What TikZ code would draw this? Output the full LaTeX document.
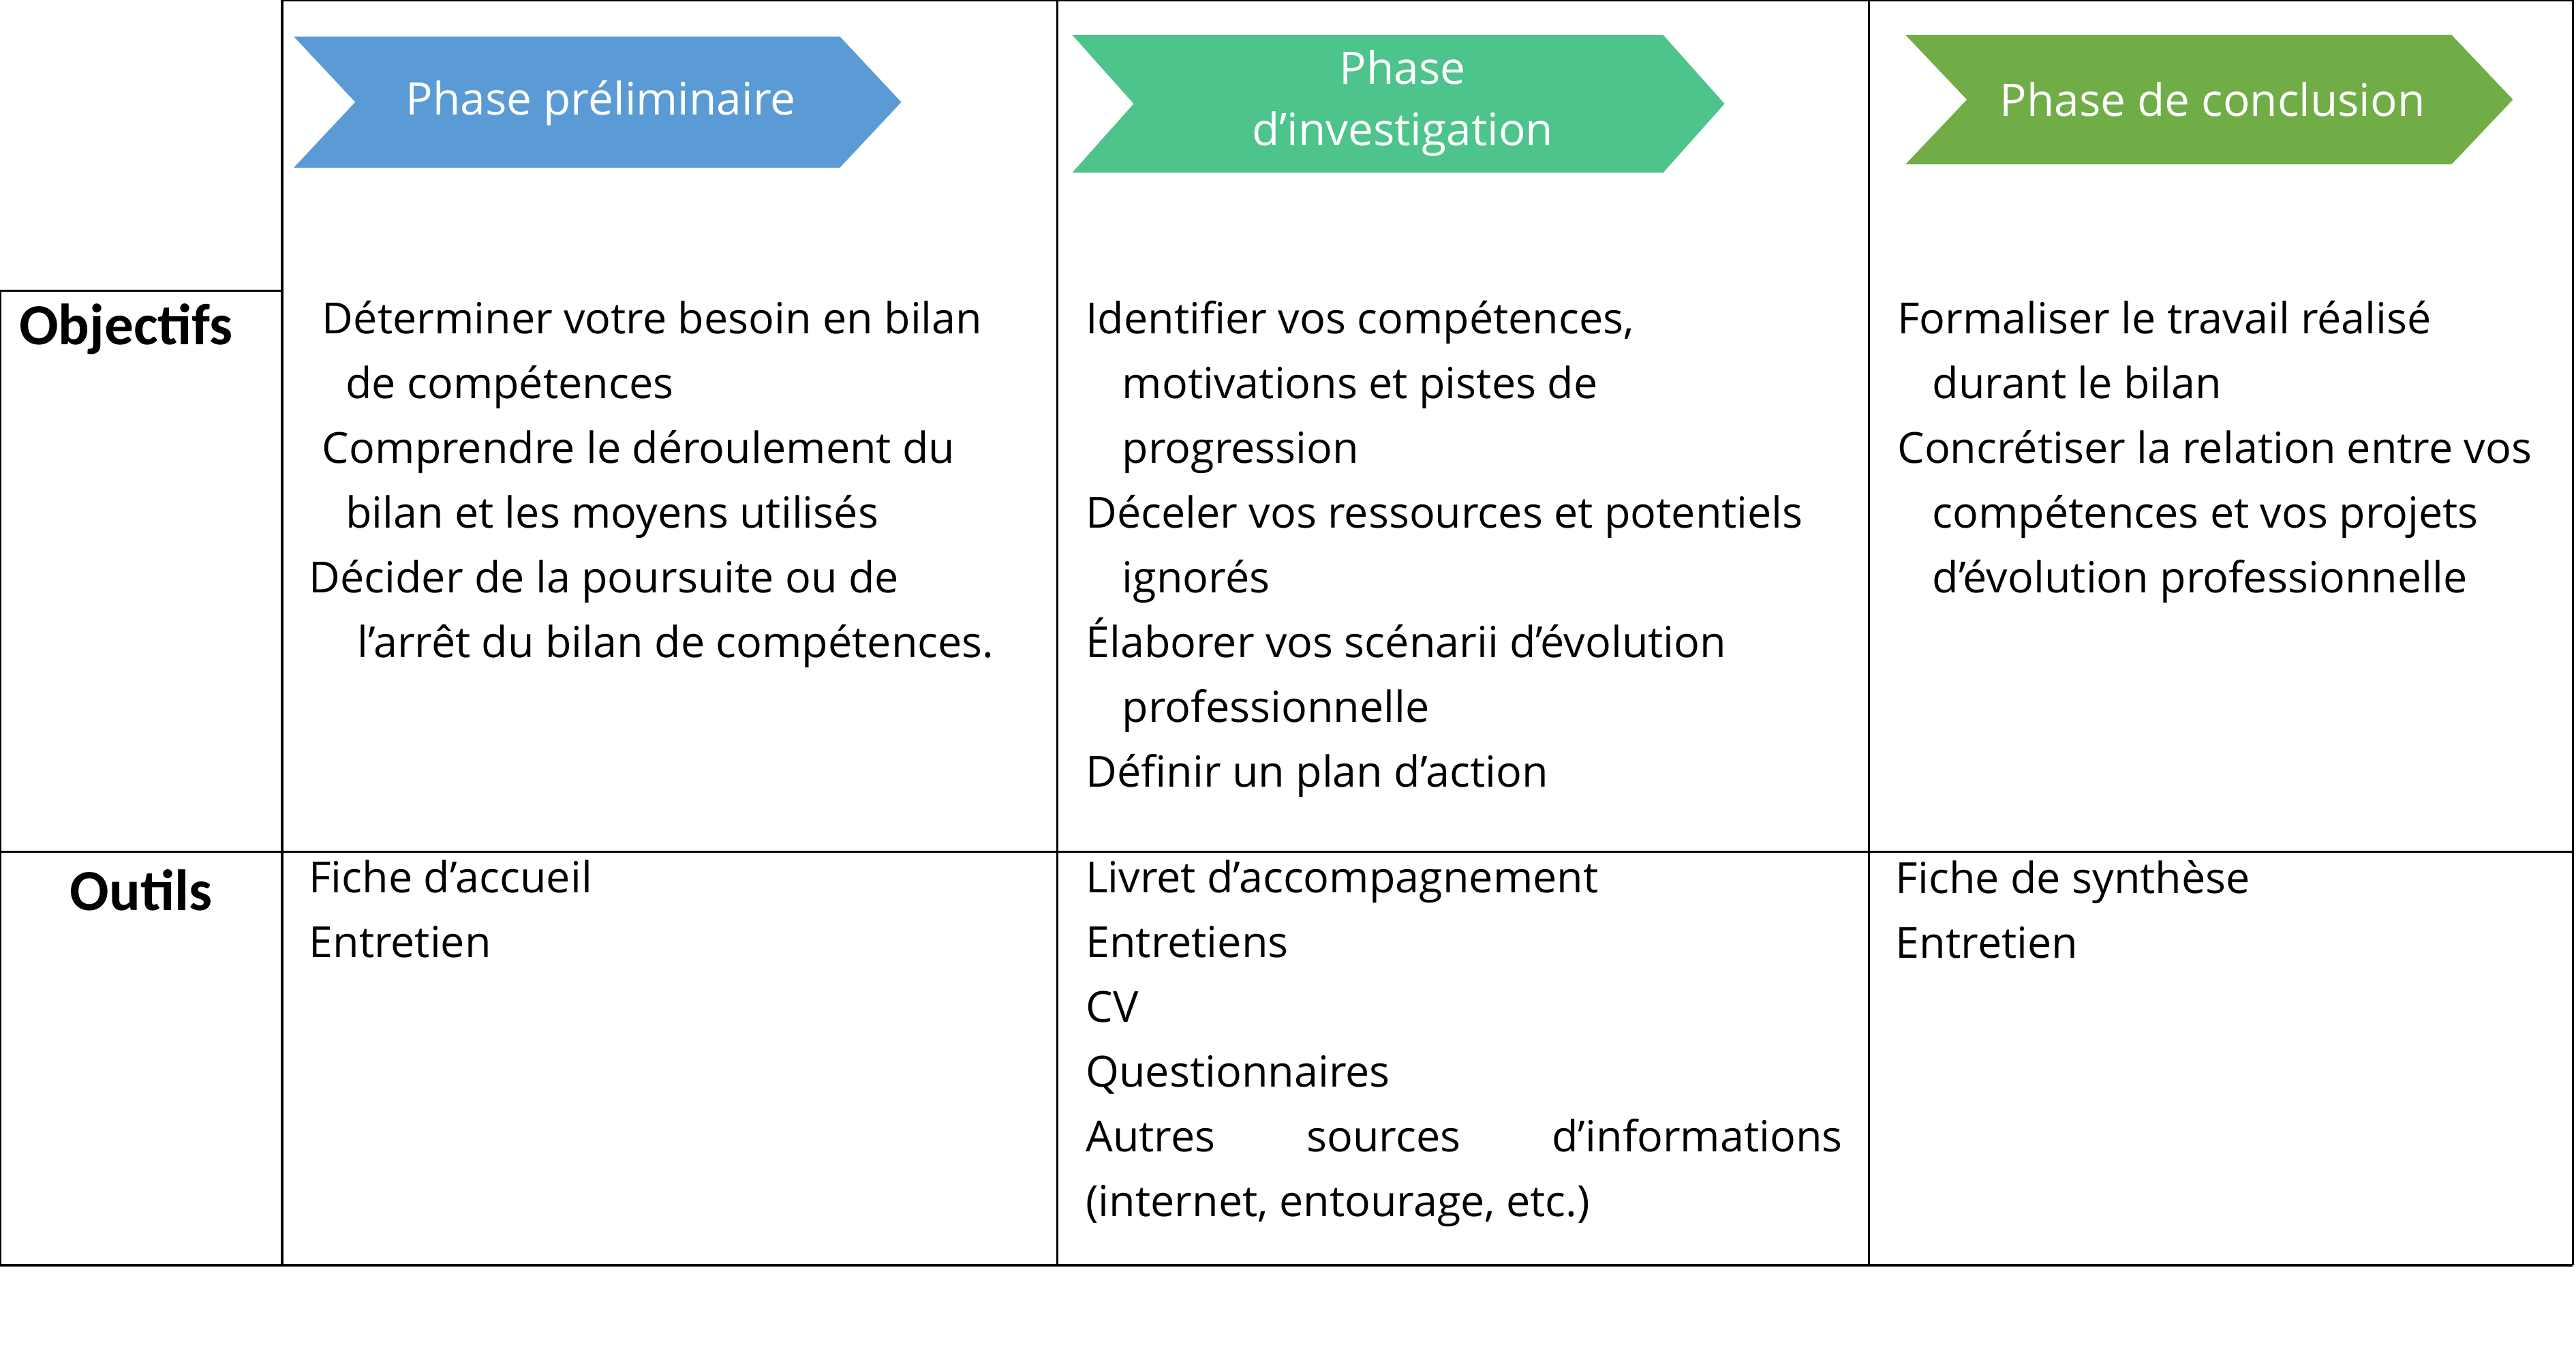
\documentclass[tikz,border=0pt]{standalone}
\usepackage{fontspec}
\setmainfont{Open Sans}[Ligatures=ResetAll]
\newfontfamily\headfont{Carlito}
\usetikzlibrary{positioning}

\definecolor{phaseblue}{HTML}{5B9BD5}
\definecolor{phasegreen}{HTML}{4CC48B}
\definecolor{phaselime}{HTML}{70AD47}

\newcommand{\chevron}[5]{% x1,x2,ytop,ybot,color
  \fill[#5] (#1,#3) -- (#2-37,#3) -- (#2,{(#3+#4)/2}) -- (#2-37,#4)
    -- (#1,#4) -- (#1+37,{(#3+#4)/2}) -- cycle;}

\begin{document}
\begin{tikzpicture}[x=1pt,y=-1pt,
    grid/.style={line width=1.3pt,black},
    cell/.style={anchor=north west,inner sep=0pt,align=left,
      font=\fontsize{25.8}{39}\selectfont},
    head/.style={inner sep=0pt,font=\headfont\fontsize{35}{40}\selectfont\bfseries},
    phase/.style={text=white,align=center,inner sep=0pt,
      font=\fontsize{27}{37}\selectfont}
  ]
  \useasboundingbox (0,0) rectangle (1552,820);
  % table
  \draw[grid] (170,0) -- (1550,0);
  \draw[grid] (0,175) -- (170,175);
  \draw[grid] (0,513) -- (1550,513);
  \draw[grid] (0,762) -- (1550,762);
  \draw[grid] (0,175) -- (0,762);
  \draw[grid] (170,0) -- (170,762);
  \draw[grid] (637,0) -- (637,762);
  \draw[grid] (1126,0) -- (1126,762);
  \draw[grid] (1550,0) -- (1550,762);
  % phases
  \chevron{177}{543}{22}{101}{phaseblue}
  \chevron{646}{1039}{21}{104}{phasegreen}
  \chevron{1148}{1514}{21}{99}{phaselime}
  \node[phase] (prelim) at (362,62) {Phase préliminaire};
  \node[phase] (invest) at (845,62) {Phase\\d'investigation};
  \node[phase] (concl) at (1333,60) {Phase de conclusion};
  % row heads
  \node[head] (objectifs) at (76,198) {Objectifs};
  \node[head] (outils) at (85,536) {Outils};
  % objectifs
  \node[cell] (obj1) at (186,181) {\hspace*{8pt}Déterminer votre besoin en bilan\\
    \hspace*{22pt}de compétences\\
    \hspace*{8pt}Comprendre le déroulement du\\
    \hspace*{22pt}bilan et les moyens utilisés\\
    Décider de la poursuite ou de\\
    \hspace*{29pt}l'arrêt du bilan de compétences.};
  \node[cell] (obj2) at (654,181) {Identifier vos compétences,\\
    \hspace*{22pt}motivations et pistes de\\
    \hspace*{22pt}progression\\
    Déceler vos ressources et potentiels\\
    \hspace*{22pt}ignorés\\
    Élaborer vos scénarii d’évolution\\
    \hspace*{22pt}professionnelle\\
    Définir un plan d’action};
  \node[cell] (obj3) at (1143,181) {Formaliser le travail réalisé\\
    \hspace*{21pt}durant le bilan\\
    Concrétiser la relation entre vos\\
    \hspace*{21pt}compétences et vos projets\\
    \hspace*{21pt}d’évolution professionnelle};
  % outils
  \node[cell] (out1) at (186,518) {Fiche d’accueil\\Entretien};
  \node[cell] (out2) at (654,518) {Livret d’accompagnement\\Entretiens\\CV\\Questionnaires\\
    \makebox[456pt][s]{Autres\hfill sources\hfill d’informations}\\
    (internet, entourage, etc.)};
  \node[cell] (out3) at (1142,518) {Fiche de synthèse\\Entretien};
\end{tikzpicture}
\end{document}
